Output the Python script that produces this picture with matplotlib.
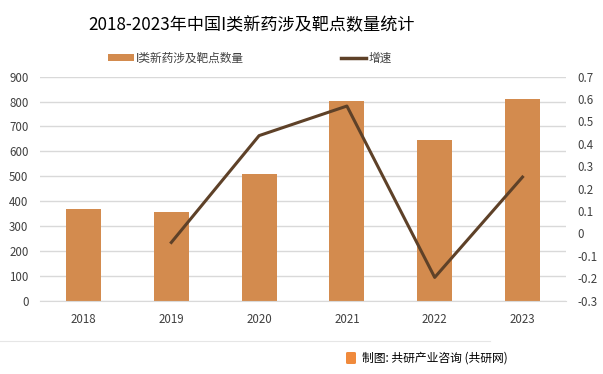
import matplotlib
matplotlib.use("Agg")
import matplotlib.pyplot as plt
from matplotlib.lines import Line2D
from matplotlib.patches import Patch, FancyBboxPatch

plt.rcParams['font.family'] = ['Noto Sans CJK SC', 'DejaVu Sans']

years = ["2018", "2019", "2020", "2021", "2022", "2023"]
counts = [370, 355, 510, 802, 645, 810]
growth_years = ["2019", "2020", "2021", "2022", "2023"]
growth = [-0.04, 0.437, 0.569, -0.196, 0.252]

title = "2018-2023年中国I类新药涉及靶点数量统计"
bar_label = "I类新药涉及靶点数量"
line_label = "增速"
source = "制图: 共研产业咨询 (共研网)"

bar_color = "#D38B4E"
line_color = "#5E4128"
grid_color = "#D9D9D9"
text_color = "#404040"

W, H = 603, 374
fig = plt.figure(figsize=(W / 100, H / 100), dpi=100)
ax = fig.add_axes([39.6 / W, 1 - 300.7 / H, (566.4 - 39.6) / W, (300.7 - 76.7) / H])

x = list(range(len(years)))
ax.bar(x, counts, width=0.4, color=bar_color, zorder=2)
ax.set_xlim(-0.5, len(years) - 0.5)
ax.set_ylim(0, 900)
ax.set_yticks(range(0, 901, 100))
ax.set_xticks(x)
ax.set_xticklabels(years)
ax.yaxis.grid(True, color=grid_color, linewidth=1)
ax.set_axisbelow(True)
for s in ax.spines.values():
    s.set_visible(False)
ax.spines['bottom'].set_visible(True)
ax.spines['bottom'].set_color(grid_color)
ax.tick_params(axis='both', length=0, labelsize=8.3, colors=text_color)
ax.tick_params(axis='y', pad=8)
ax.tick_params(axis='x', pad=9)

ax2 = ax.twinx()
gx = [years.index(y) for y in growth_years]
ax2.plot(gx, growth, color=line_color, linewidth=2.2, zorder=3)
ax2.set_ylim(-0.3, 0.7)
ax2.set_yticks([i / 10 for i in range(-3, 8)])
ax2.set_yticklabels([("%g" % (i / 10)) for i in range(-3, 8)])
for s in ax2.spines.values():
    s.set_visible(False)
ax2.tick_params(axis='y', length=0, labelsize=8.3, colors=text_color, pad=8)

fig.text(252 / W, 1 - 25 / H, title, ha='center', va='center', fontsize=12.3, color='black')

handles = [Patch(facecolor=bar_color, edgecolor='none'),
           Line2D([0], [0], color=line_color, linewidth=2.5)]
leg = fig.legend(handles, [bar_label, line_label], loc='center', bbox_to_anchor=(250 / W, 1 - 58 / H),
                 ncol=2, frameon=False, fontsize=8.4, columnspacing=8.3, handlelength=2.2,
                 handletextpad=0.2, handleheight=0.5)
for t in leg.get_texts():
    t.set_color(text_color)

fig.add_artist(Line2D([0, 490 / W], [1 - 341 / H, 1 - 341 / H], color='#E6E6E6', linewidth=0.8,
                      transform=fig.transFigure))
icon = FancyBboxPatch((346 / W, 1 - 364 / H), 10 / W, 12 / H, boxstyle="round,pad=0,rounding_size=0.003",
                      transform=fig.transFigure, facecolor='#F08A3C', edgecolor='none')
fig.add_artist(icon)
fig.text(508 / W, 1 - 358 / H, source, ha='right', va='center', fontsize=8.5, color='black')

fig.savefig("out.png", dpi=100)
